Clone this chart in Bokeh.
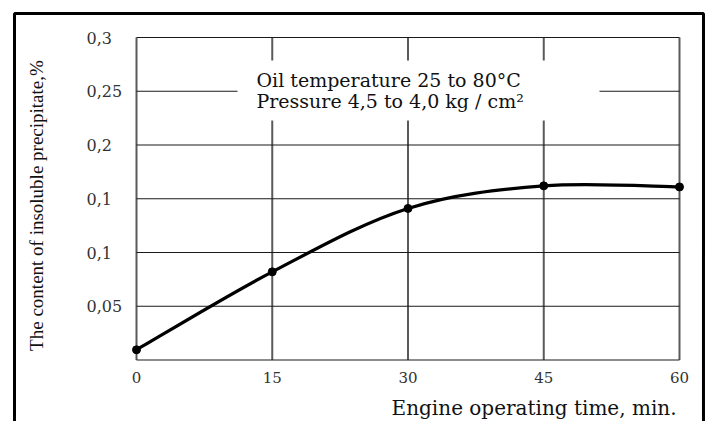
import numpy as np
from bokeh.plotting import figure
from bokeh.models import ColumnDataSource, BoxAnnotation, Label, LabelSet, Range1d
from bokeh.core.properties import value
from bokeh.embed import file_html
from bokeh.resources import INLINE

# ---- data ----
time_min = [0, 15, 30, 45, 60]
precipitate_pct = [0.0095, 0.082, 0.141, 0.162, 0.161]
x_ticks = [0, 15, 30, 45, 60]
x_tick_labels = ["0", "15", "30", "45", "60"]
y_ticks = [0.05, 0.1, 0.15, 0.2, 0.25, 0.3]
y_tick_labels = ["0,05", "0,1", "0,1", "0,2", "0,25", "0,3"]
y_grid_values = [0, 0.05, 0.1, 0.15, 0.2, 0.25, 0.3]
x_min, x_max = 0, 60
y_min, y_max = 0, 0.3
note_line1 = "Oil temperature 25 to 80°C"
note_line2 = "Pressure 4,5 to 4,0 kg / cm²"
x_title = "Engine operating time, min."
y_title = "The content of insoluble precipitate,%"

SERIF_W = "DejaVu Serif"
SERIF = "Liberation Serif"

# The whole canvas is the plotting frame; ranges place the data area
p = figure(width=709, height=421, min_border=0,
           x_range=Range1d(-15.028, 63.315), y_range=Range1d(-0.05721, 0.33442),
           output_backend="svg", toolbar_location=None)
p.background_fill_color = "white"
p.border_fill_color = "white"
p.outline_line_color = None
p.axis.visible = False
p.grid.visible = False

# grid lines of the data area
n_x = len(x_ticks)
n_y = len(y_grid_values)
p.segment(x0=x_ticks, x1=x_ticks, y0=[y_min] * n_x, y1=[y_max] * n_x,
          line_color="#5a5a5a", line_width=2)
p.segment(x0=[x_min] * n_y, x1=[x_max] * n_y, y0=y_grid_values, y1=y_grid_values,
          line_color="#1a1a1a", line_width=1.2)

# tick labels
xsrc = ColumnDataSource(dict(x=x_ticks, text=x_tick_labels))
p.add_layout(LabelSet(x="x", y=value(-0.0163), text="text", source=xsrc,
                      text_align="center", text_baseline="middle",
                      text_font=value(SERIF_W), text_font_size=value("15px"),
                      text_color="#333333"))
ysrc = ColumnDataSource(dict(y=y_ticks, text=y_tick_labels))
p.add_layout(LabelSet(x=value(-5.53), y="y", text="text", source=ysrc,
                      text_align="left", text_baseline="middle",
                      text_font=value(SERIF_W), text_font_size=value("16px"),
                      text_color="#333333"))

# smooth curve through the points (Catmull-Rom -> cubic Bezier)
pts = np.column_stack([np.array(time_min, float), np.array(precipitate_pct, float)])
n = len(pts)
x0, y0, x1, y1, cx0, cy0, cx1, cy1 = ([] for _ in range(8))
for i in range(n - 1):
    a, b = pts[i], pts[i + 1]
    prev = pts[i - 1] if i > 0 else a
    nxt = pts[i + 2] if i + 2 < n else b
    c1 = a + (b - prev) / 6.0
    c2 = b - (nxt - a) / 6.0
    x0.append(a[0]); y0.append(a[1]); x1.append(b[0]); y1.append(b[1])
    cx0.append(c1[0]); cy0.append(c1[1]); cx1.append(c2[0]); cy1.append(c2[1])
p.bezier(x0=x0, y0=y0, x1=x1, y1=y1, cx0=cx0, cy0=cy0, cx1=cx1, cy1=cy1,
         line_color="black", line_width=3.2)
p.scatter(time_min, precipitate_pct, size=8, color="black")

# white box behind the note
p.add_layout(BoxAnnotation(left=11.16, right=51.16, bottom=0.2228, top=0.2786,
                           fill_color="white", fill_alpha=1.0, line_color=None))
p.add_layout(Label(x=13.26, y=0.2609, text=note_line1, text_font=SERIF_W,
                   text_font_size="19px", text_color="#111111",
                   text_baseline="middle", text_align="left"))
p.add_layout(Label(x=13.26, y=0.2409, text=note_line2, text_font=SERIF_W,
                   text_font_size="19px", text_color="#111111",
                   text_baseline="middle", text_align="left"))

# axis titles
p.add_layout(Label(x=59.67, y=-0.0451, text=x_title, text_font=SERIF_W,
                   text_font_size="20px", text_color="#111111",
                   text_baseline="middle", text_align="right"))
p.add_layout(Label(x=-11.05, y=0.1437, text=y_title, text_font=SERIF,
                   text_font_size="19px", text_color="#111111", angle=np.pi / 2,
                   text_baseline="middle", text_align="center"))

# outer frame of the picture
p.add_layout(BoxAnnotation(left=-13.48, right=62.65, bottom=-0.2, top=0.3223,
                           fill_alpha=0, line_color="black", line_alpha=1.0,
                           line_width=3))

open("out.html", "w").write(file_html(p, INLINE))
